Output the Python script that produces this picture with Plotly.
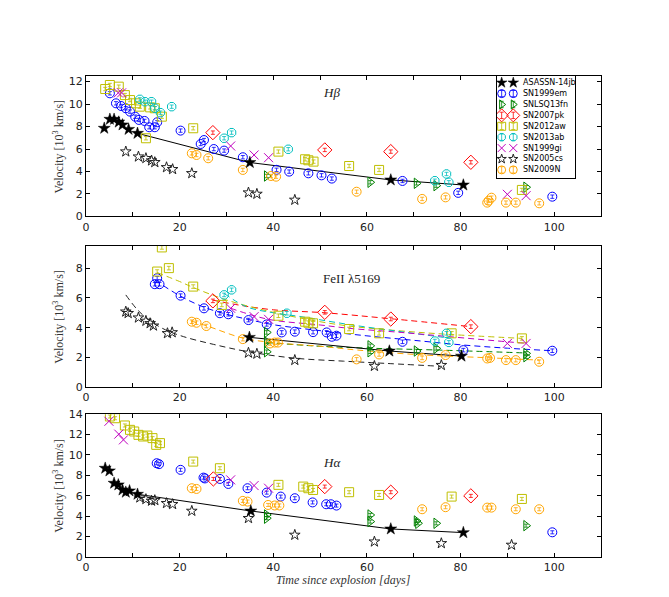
import plotly.graph_objects as go

# ---------------- series names (legend order) ----------------
names = ["ASASSN-14jb", "SN1999em", "SNLSQ13fn", "SN2007pk", "SN2012aw",
         "SN2013ab", "SN1999gi", "SN2005cs", "SN2009N"]

# ---------------- H-beta panel ----------------
hb_asassn_x = [3.9, 5.1, 6.0, 7.0, 7.8, 9.1, 11.0, 35.0, 65.1, 80.6]
hb_asassn_y = [7.85, 8.65, 8.65, 8.4, 8.15, 7.75, 7.4, 4.8, 3.25, 2.8]
hb_line_x = [11.0, 35.0, 65.1, 80.6]
hb_line_y = [7.4, 4.8, 3.25, 2.8]
hb_99em_x = [5.1, 6.4, 7.5, 8.5, 9.4, 10.5, 11.3, 12.5, 13.5, 14.7, 15.2, 20.2, 24.5, 25.2,
             27.3, 29.5, 33.5, 40.7, 43.4, 47.5, 50.3, 52.5, 67.6, 79.5, 99.6]
hb_99em_y = [10.96, 10.07, 9.83, 9.63, 9.33, 8.88, 8.59, 8.5, 7.94, 7.94, 8.38, 7.64, 6.45, 6.8,
             6.0, 5.86, 5.27, 4.15, 3.99, 3.84, 3.66, 3.37, 3.16, 2.1, 1.76]
hb_13fn_x = [38.6, 60.7, 70.6, 74.8, 94.0]
hb_13fn_y = [3.6, 3.04, 2.95, 2.74, 2.6]
hb_07pk_x = [27.1, 51.0, 65.1, 82.2]
hb_07pk_y = [7.46, 5.92, 5.77, 4.82]
hb_12aw_x = [4.1, 5.1, 7.0, 8.3, 9.4, 10.7, 11.5, 12.8, 13.7, 14.7, 16.2, 22.9, 41.1, 46.8,
             47.5, 48.6, 56.2, 62.6, 93.1]
hb_12aw_y = [11.34, 11.7, 11.55, 10.8, 10.36, 10.07, 9.77, 6.96, 9.71, 9.63, 8.88, 7.85, 5.77,
             5.09, 5.0, 4.88, 4.49, 4.14, 2.36]
hb_13ab_x = [11.5, 12.6, 14.0, 14.7, 15.9, 18.3, 29.5, 31.1, 43.2, 74.5, 77.0, 77.5]
hb_13ab_y = [10.42, 10.21, 10.21, 9.63, 9.24, 9.77, 6.96, 7.46, 5.98, 3.18, 3.78, 3.04]
hb_99gi_x = [6.9, 7.6, 30.9, 35.9, 39.0, 90.0, 94.0]
hb_99gi_y = [11.0, 11.0, 6.27, 5.47, 5.23, 1.97, 1.85]
hb_05cs_x = [8.5, 11.2, 12.8, 14.0, 14.7, 17.2, 18.5, 22.6, 34.7, 36.5, 44.6]
hb_05cs_y = [5.77, 5.32, 5.18, 4.97, 4.82, 4.37, 4.2, 3.84, 2.12, 2.0, 1.47]
hb_09n_x = [22.6, 23.6, 26.1, 33.5, 39.5, 40.6, 57.8, 71.8, 76.8, 85.7, 86.0, 86.6, 89.7, 91.8, 96.8]
hb_09n_y = [5.62, 5.47, 5.18, 4.14, 3.6, 3.54, 2.2, 1.56, 1.7, 1.23, 1.4, 1.67, 1.23, 1.23, 1.17]

# ---------------- FeII 5169 panel ----------------
fe_asassn_x = [34.9, 64.8, 80.2]
fe_asassn_y = [3.35, 2.43, 2.09]
fe_line_x = [34.9, 64.8, 80.2]
fe_line_y = [3.35, 2.43, 2.09]
fe_99em_x = [14.7, 15.2, 15.7, 20.2, 25.2, 28.6, 30.4, 34.7, 38.6, 41.8, 44.6, 48.5, 51.4, 52.5,
             53.5, 67.6, 80.6, 99.6]
fe_99em_y = [6.92, 7.32, 6.92, 6.15, 5.3, 4.97, 4.9, 4.51, 4.22, 3.68, 3.73, 3.7, 3.68, 3.39,
             3.46, 3.05, 2.49, 2.45]
fe_13fn_x = [38.6, 38.6, 38.6, 60.7, 60.7, 70.6, 74.8, 94.0, 94.0]
fe_13fn_y = [3.68, 3.05, 2.38, 2.78, 2.38, 2.43, 2.61, 2.27, 2.05]
fe_07pk_x = [27.1, 51.0, 65.1, 82.2]
fe_07pk_y = [5.8, 5.03, 4.58, 4.07]
fe_12aw_x = [15.2, 16.2, 17.7, 22.9, 29.0, 41.1, 46.8, 47.5, 48.5, 56.2, 62.6, 78.1, 93.1]
fe_12aw_y = [7.77, 9.39, 8.0, 6.76, 5.53, 4.8, 4.4, 4.33, 4.29, 3.91, 3.62, 3.62, 3.28]
fe_13ab_x = [29.5, 31.1, 42.9, 74.5, 77.0, 77.5]
fe_13ab_y = [6.2, 6.54, 4.97, 3.1, 3.62, 3.01]
fe_99gi_x = [30.9, 35.9, 39.0, 90.0, 94.0]
fe_99gi_y = [5.3, 4.74, 4.56, 2.94, 2.94]
fe_05cs_x = [8.5, 9.0, 11.2, 12.8, 13.7, 14.4, 17.4, 18.4, 34.7, 36.5, 44.6, 61.6, 75.9]
fe_05cs_y = [5.07, 4.97, 4.67, 4.45, 4.29, 4.13, 3.62, 3.68, 2.31, 2.24, 1.82, 1.42, 1.48]
fe_09n_x = [22.6, 23.6, 25.7, 33.5, 39.3, 40.3, 41.0, 57.8, 62.6, 71.8, 76.8, 85.7, 86.3, 89.7,
            91.8, 96.8]
fe_09n_y = [4.4, 4.33, 4.11, 3.23, 2.94, 3.0, 3.0, 1.87, 2.2, 1.97, 2.16, 1.93, 1.97, 1.82,
            1.82, 1.71]

# dashed fit curves
fit_99em_x = [14.7, 20, 25, 30, 34.7, 40, 50, 60, 70, 80, 90, 99.6]
fit_99em_y = [7.2, 6.15, 5.4, 4.9, 4.55, 4.2, 3.8, 3.45, 3.15, 2.85, 2.62, 2.45]
fit_13fn_x = [38.6, 45, 50, 60.7, 74.8, 94.0]
fit_13fn_y = [3.0, 2.85, 2.75, 2.62, 2.5, 2.3]
fit_07pk_x = [27.1, 33, 40, 51, 65.1, 82.2]
fit_07pk_y = [5.85, 5.5, 5.2, 5.0, 4.6, 4.07]
fit_12aw_x = [15.2, 20, 22.9, 30, 40, 50, 56.4, 67.3, 77.4, 93.1]
fit_12aw_y = [7.7, 7.1, 6.7, 5.86, 5.03, 4.4, 4.1, 3.78, 3.55, 3.28]
fit_13ab_x = [29.5, 34.3, 40, 45.7, 56.4, 67.3, 77.0]
fit_13ab_y = [6.3, 5.4, 5.0, 4.75, 4.2, 3.73, 3.32]
fit_99gi_x = [30.9, 35.9, 40, 50, 56.4, 67.3, 77.4, 90, 94]
fit_99gi_y = [5.3, 4.8, 4.5, 4.18, 3.95, 3.68, 3.4, 3.05, 2.95]
fit_05cs_x = [8.5, 11, 13.7, 17, 20.8, 27.2, 34.7, 44.6, 55, 61.6, 76]
fit_05cs_y = [6.2, 5.2, 4.45, 3.85, 3.4, 2.88, 2.38, 1.95, 1.75, 1.64, 1.4]
fit_09n_x = [22.4, 26, 33.5, 40, 50, 57.8, 71.8, 85.7, 96.8]
fit_09n_y = [4.45, 4.1, 3.3, 3.0, 2.75, 2.5, 2.17, 1.98, 1.82]

# ---------------- H-alpha panel ----------------
ha_asassn_x = [4.1, 5.0, 6.0, 6.9, 7.8, 8.5, 9.3, 11.0, 35.2, 65.1, 80.6]
ha_asassn_y = [8.7, 8.44, 7.23, 7.07, 6.57, 6.35, 6.48, 6.15, 4.51, 2.75, 2.39]
ha_line_x = [11.0, 35.2, 65.1, 80.6]
ha_line_y = [6.15, 4.51, 2.75, 2.39]
ha_99em_x = [15.1, 15.6, 20.2, 25.1, 25.4, 28.6, 30.4, 34.5, 38.6, 41.6, 44.6, 48.4, 51.3, 52.3,
             53.5, 99.6]
ha_99em_y = [9.19, 9.1, 8.54, 7.78, 7.7, 7.65, 7.16, 6.74, 6.31, 5.92, 5.76, 5.35, 5.17, 5.17,
             5.04, 2.42]
ha_13fn_x = [38.6, 38.6, 60.7, 60.7, 70.6, 70.9, 74.8, 94.0]
ha_13fn_y = [4.12, 3.8, 4.12, 3.47, 3.53, 3.3, 3.3, 3.07]
ha_07pk_x = [27.2, 51.0, 65.1, 82.2]
ha_07pk_y = [7.65, 6.9, 6.35, 5.99]
ha_12aw_x = [5.1, 6.2, 8.3, 9.4, 10.3, 11.2, 12.2, 13.1, 14.2, 15.0, 15.8, 22.9, 28.6, 41.1,
             46.4, 47.5, 48.5, 56.2, 62.6, 78.1, 93.1]
ha_12aw_y = [13.77, 13.6, 12.89, 12.46, 12.3, 11.97, 11.81, 11.9, 11.65, 10.99, 11.16, 9.35,
             8.7, 7.07, 6.9, 6.74, 6.57, 6.35, 6.08, 5.92, 5.69]
ha_99gi_x = [4.9, 7.0, 8.0, 30.9, 35.9, 39.0]
ha_99gi_y = [13.3, 12.04, 11.48, 7.56, 7.0, 6.74]
ha_05cs_x = [11.5, 12.8, 14.0, 14.7, 17.2, 18.5, 22.6, 34.7, 44.6, 61.6, 75.9, 90.9]
ha_05cs_y = [5.82, 5.66, 5.5, 5.56, 5.27, 5.17, 4.51, 3.8, 2.16, 1.5, 1.34, 1.18]
ha_09n_x = [22.6, 23.6, 33.5, 34.5, 38.9, 40.3, 41.3, 71.8, 76.8, 85.7, 86.6, 91.8, 96.8]
ha_09n_y = [6.74, 6.67, 5.5, 5.43, 5.1, 5.05, 5.05, 4.68, 4.88, 4.84, 4.84, 4.68, 4.68]

# ---------------- styles ----------------
STYLE = {
    "ASASSN-14jb": dict(symbol="star", color="black", size=9, err=False),
    "SN1999em": dict(symbol="circle-open", color="#0000FF", size=9, err=True),
    "SNLSQ13fn": dict(symbol="triangle-right-open", color="#008000", size=9, err=True),
    "SN2007pk": dict(symbol="diamond-open", color="#FF0000", size=11, err=True),
    "SN2012aw": dict(symbol="square-open", color="#BFBF00", size=9, err=True),
    "SN2013ab": dict(symbol="octagon-open", color="#00BFBF", size=9, err=True),
    "SN1999gi": dict(symbol="x-thin-open", color="#BF00BF", size=9, err=False),
    "SN2005cs": dict(symbol="star-open", color="#222222", size=8, err=False),
    "SN2009N": dict(symbol="circle-open", color="#FFA500", size=9, err=True),
}

panels = [
    ("x", "y", 0.15, {
        "SN1999em": (hb_99em_x, hb_99em_y), "SNLSQ13fn": (hb_13fn_x, hb_13fn_y),
        "SN2007pk": (hb_07pk_x, hb_07pk_y), "SN2012aw": (hb_12aw_x, hb_12aw_y),
        "SN2013ab": (hb_13ab_x, hb_13ab_y), "SN1999gi": (hb_99gi_x, hb_99gi_y),
        "SN2005cs": (hb_05cs_x, hb_05cs_y), "SN2009N": (hb_09n_x, hb_09n_y),
        "ASASSN-14jb": (hb_asassn_x, hb_asassn_y)},
     [("black", "solid", hb_line_x, hb_line_y)]),
    ("x2", "y2", 0.12, {
        "SN1999em": (fe_99em_x, fe_99em_y), "SNLSQ13fn": (fe_13fn_x, fe_13fn_y),
        "SN2007pk": (fe_07pk_x, fe_07pk_y), "SN2012aw": (fe_12aw_x, fe_12aw_y),
        "SN2013ab": (fe_13ab_x, fe_13ab_y), "SN1999gi": (fe_99gi_x, fe_99gi_y),
        "SN2005cs": (fe_05cs_x, fe_05cs_y), "SN2009N": (fe_09n_x, fe_09n_y),
        "ASASSN-14jb": (fe_asassn_x, fe_asassn_y)},
     [("#0000FF", "dash", fit_99em_x, fit_99em_y), ("#008000", "dash", fit_13fn_x, fit_13fn_y),
      ("#FF0000", "dash", fit_07pk_x, fit_07pk_y), ("#BFBF00", "dash", fit_12aw_x, fit_12aw_y),
      ("#00BFBF", "dash", fit_13ab_x, fit_13ab_y), ("#BF00BF", "dash", fit_99gi_x, fit_99gi_y),
      ("#222222", "dash", fit_05cs_x, fit_05cs_y), ("#FFA500", "dash", fit_09n_x, fit_09n_y),
      ("black", "solid", fe_line_x, fe_line_y)]),
    ("x3", "y3", 0.15, {
        "SN1999em": (ha_99em_x, ha_99em_y), "SNLSQ13fn": (ha_13fn_x, ha_13fn_y),
        "SN2007pk": (ha_07pk_x, ha_07pk_y), "SN2012aw": (ha_12aw_x, ha_12aw_y),
        "SN1999gi": (ha_99gi_x, ha_99gi_y),
        "SN2005cs": (ha_05cs_x, ha_05cs_y), "SN2009N": (ha_09n_x, ha_09n_y),
        "ASASSN-14jb": (ha_asassn_x, ha_asassn_y)},
     [("black", "solid", ha_line_x, ha_line_y)]),
]


def marker_for(st, size=None):
    return dict(symbol=st["symbol"], size=size or st["size"], color=st["color"],
                line=dict(color=st["color"], width=1 if st["symbol"] != "star" else 0.5))


fig = go.Figure()
for xa, ya, err, series, lines in panels:
    for color, dash, lx, ly in lines:
        fig.add_trace(go.Scatter(
            x=lx, y=ly, xaxis=xa, yaxis=ya, mode="lines", showlegend=False, hoverinfo="skip",
            line=dict(color=color, width=1, dash="6px,4px" if dash == "dash" else "solid",
                      shape="spline" if dash == "dash" else "linear")))
    for name, (sx, sy) in series.items():
        st = STYLE[name]
        fig.add_trace(go.Scatter(
            x=sx, y=sy, xaxis=xa, yaxis=ya, mode="markers", name=name, showlegend=False,
            marker=marker_for(st),
            error_y=dict(type="constant", value=err, visible=st["err"], color=st["color"],
                         thickness=0.8, width=2)))

# ---------------- hand-made legend (matplotlib style, two samples per row) -------------
for i, name in enumerate(names):
    st = STYLE[name]
    row = 6.7 + 10.9 * i
    fig.add_trace(go.Scatter(
        x=[4.7, 16.3], y=[row, row], xaxis="x4", yaxis="y4", mode="markers", showlegend=False,
        hoverinfo="skip", marker=marker_for(st, size=max(st["size"] - 1, 7)),
        error_y=dict(type="constant", value=3.2, visible=st["err"], color=st["color"],
                     thickness=0.8, width=2)))
    fig.add_annotation(x=24.5, y=row, xref="x4", yref="y4", text=name, showarrow=False,
                       xanchor="left", yanchor="middle",
                       font=dict(family="DejaVu Sans", size=8, color="black"))

tickfont = dict(family="DejaVu Sans", size=11, color="#222222")
axis_common = dict(showline=True, linecolor="black", linewidth=1, mirror="ticks",
                   ticks="inside", ticklen=4, tickcolor="black", showgrid=False,
                   zeroline=False, tickfont=tickfont)
xcommon = dict(axis_common, range=[0, 110], dtick=20, tick0=0,
               minor=dict(dtick=10, ticks="inside", ticklen=4, tickcolor="black", showgrid=False))

domains = [[0.708, 1.0], [0.353, 0.647], [0.0, 0.297]]
yranges = [[0, 12.5], [0, 9.5], [0, 14]]

fig.update_layout(
    width=669, height=597,
    margin=dict(l=86, r=68, t=76, b=40),
    plot_bgcolor="white", paper_bgcolor="white",
    showlegend=False,
    xaxis=dict(xcommon, anchor="y"),
    xaxis2=dict(xcommon, anchor="y2"),
    xaxis3=dict(xcommon, anchor="y3"),
    yaxis=dict(axis_common, domain=domains[0], range=yranges[0], dtick=2, anchor="x"),
    yaxis2=dict(axis_common, domain=domains[1], range=yranges[1], dtick=2, anchor="x2"),
    yaxis3=dict(axis_common, domain=domains[2], range=yranges[2], dtick=2, anchor="x3"),
    xaxis4=dict(domain=[0.798, 0.9495], range=[0, 78], anchor="y4", showline=True,
                linecolor="black", linewidth=1, mirror=True, showticklabels=False,
                ticks="", showgrid=False, zeroline=False, fixedrange=True),
    yaxis4=dict(domain=[0.788, 1.0], range=[102, 0], anchor="x4", showline=True,
                linecolor="black", linewidth=1, mirror=True, showticklabels=False,
                ticks="", showgrid=False, zeroline=False, fixedrange=True),
)

serif = "Liberation Serif"
labels = [("x", "y", 11.0, "<i>Hβ</i>"), ("x2", "y2", 7.33, "FeII λ5169"),
          ("x3", "y3", 9.3, "<i>Hα</i>")]
for xa, ya, yv, txt in labels:
    fig.add_annotation(x=50.1, y=yv, xref=xa, yref=ya, text=txt, showarrow=False,
                       xanchor="left", yanchor="middle",
                       font=dict(family=serif, size=13, color="#222222"))

for ya in ["y", "y2", "y3"]:
    fig.add_annotation(x=-0.054, y=0.5, xref="paper", yref=ya + " domain",
                       text="Velocity [10<sup>3</sup> km/s]", showarrow=False, textangle=-90,
                       xanchor="center", yanchor="middle",
                       font=dict(family=serif, size=12, color="#333333"))

fig.add_annotation(x=0.5, y=-0.048, xref="paper", yref="paper",
                   text="<i>Time since explosion [days]</i>", showarrow=False,
                   xanchor="center", yanchor="middle",
                   font=dict(family=serif, size=12, color="#333333"))

fig.write_html("out.html")
